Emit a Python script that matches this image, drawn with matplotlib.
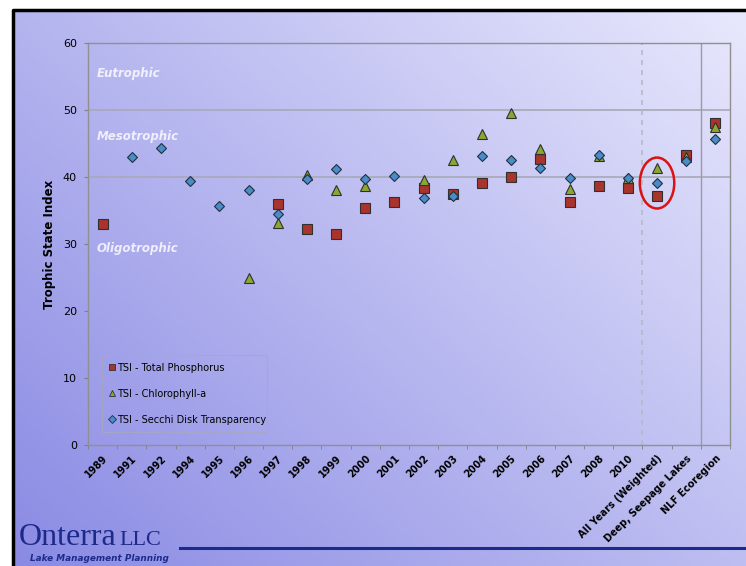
import numpy as np
import matplotlib.pyplot as plt
from matplotlib.patches import Ellipse
from matplotlib.lines import Line2D

# Categories along the x axis
cats = ['1989', '1991', '1992', '1994', '1995', '1996', '1997', '1998', '1999',
        '2000', '2001', '2002', '2003', '2004', '2005', '2006', '2007', '2008',
        '2010', 'All Years (Weighted)', 'Deep, Seepage Lakes', 'NLF Ecoregion']

nan = np.nan
# TSI values per category (nan = no data)
tsi_tp = [33.0, nan, nan, nan, nan, nan, 35.9, 32.2, 31.5, 35.3, 36.3, 38.3,
          37.4, 39.1, 40.0, 42.7, 36.3, 38.7, 38.3, 37.1, 43.3, 48.1]
tsi_chl = [nan, nan, nan, nan, nan, 24.9, 33.1, 40.3, 38.0, 38.6, nan, 39.6,
           42.5, 46.4, 49.6, 44.2, 38.2, 43.1, 39.9, 41.3, 43.0, 47.5]
tsi_sd = [nan, 43.0, 44.4, 39.4, 35.7, 38.1, 34.5, 39.7, 41.2, 39.7, 40.2, 36.8,
          37.2, 43.2, 42.6, 41.3, 39.8, 43.3, 39.8, 39.1, 42.4, 45.7]

W, H = 746, 566
fig = plt.figure(figsize=(W / 100, H / 100), dpi=100)
fig.patch.set_facecolor('white')

# gradient panel behind everything
bg = fig.add_axes([0, 0, 1, 1], zorder=0)
bg.axis('off')
gx, gy = np.meshgrid(np.linspace(0, 1, 200), np.linspace(0, 1, 200))
t = np.clip(0.55 * gx + 0.45 * (1 - gy), 0, 1)
c0 = np.array([138, 138, 228]) / 255
c1 = np.array([232, 232, 253]) / 255
img = c0[None, None, :] * (1 - t[..., None]) + c1[None, None, :] * t[..., None]
bg.imshow(img, extent=[13, W, H, 9], aspect='auto', interpolation='bilinear')
bg.plot([13, 13, W], [H, 9.5, 9.5], color='black', lw=2.5, solid_capstyle='butt')
bg.plot([180, W], [548, 548], color='#1c2a8a', lw=2.2)
bg.text(19, 545, 'Onterra', family='Liberation Serif', fontsize=23,
        color='#1c2a8a', va='baseline')
bg.text(119, 545, 'LLC', family='Liberation Serif', fontsize=16, color='#1c2a8a',
        va='baseline')
bg.text(30, 561, 'Lake Management Planning', fontsize=6.4, color='#1c2a8a',
        style='italic', weight='bold', va='baseline', family='Liberation Sans Narrow')
bg.set_xlim(0, W)
bg.set_ylim(H, 0)

ax = fig.add_axes([88 / W, (H - 445) / H, 642 / W, 402 / H], zorder=1)
ax.set_facecolor('none')
x = np.arange(len(cats))

ax.set_xlim(-0.5, len(cats) - 0.5)
ax.set_ylim(0, 60)
ax.set_yticks(np.arange(0, 61, 10))
ax.tick_params(axis='y', labelsize=8, length=3, color='#808080', pad=5)
ax.set_xticks(x)
ax.set_xticklabels(cats, rotation=45, ha='right', rotation_mode='anchor',
                   fontsize=7, weight='bold')
ax.tick_params(axis='x', length=0, pad=6)
ax.set_xticks(np.arange(-0.5, len(cats), 1), minor=True)
ax.tick_params(axis='x', which='minor', length=3, color='#808080')
for s in ax.spines.values():
    s.set_color('#909090')
    s.set_linewidth(1)

for yv in (40, 50):
    ax.axhline(yv, color='#a8a8b8', lw=1.2, zorder=1)
ax.axvline(18.5, color='#b8b8c8', lw=1.2, ls=(0, (3, 3)), zorder=1)
ax.axvline(20.5, color='#9a9aa8', lw=1, zorder=1)

ax.set_ylabel('Trophic State Index', fontsize=8.5, weight='bold', labelpad=5)

ax.plot(x, tsi_tp, ls='none', marker='s', ms=6.6, mfc='#a8342c', mec='#303030',
        mew=0.8, zorder=3)
ax.plot(x, tsi_chl, ls='none', marker='^', ms=6.8, mfc='#8aa830', mec='#303030',
        mew=0.8, zorder=4)
ax.plot(x, tsi_sd, ls='none', marker='D', ms=5, mfc='#4a8cc8', mec='#203040',
        mew=0.8, zorder=5)

for label, yv in (('Eutrophic', 55.5), ('Mesotrophic', 46.1), ('Oligotrophic', 29.3)):
    ax.text(-0.2, yv, label, color='white', alpha=0.8, fontsize=8.5,
            weight='bold', style='italic', va='center')

ax.add_patch(Ellipse((19, 39.1), 1.18, 7.6, fill=False, ec='#dd1111', lw=1.8,
                     zorder=6))

handles = [
    Line2D([], [], ls='none', marker='s', ms=5, mfc='#a8342c', mec='#303030', mew=0.6),
    Line2D([], [], ls='none', marker='^', ms=5, mfc='#8aa830', mec='#303030', mew=0.6),
    Line2D([], [], ls='none', marker='D', ms=4, mfc='#4a8cc8', mec='#203040', mew=0.6),
]
leg = ax.legend(handles, ['TSI - Total Phosphorus', 'TSI - Chlorophyll-a',
                          'TSI - Secchi Disk Transparency'],
                loc='lower left', bbox_to_anchor=(0.014, 0.02, 0.273, 0.2),
                mode='expand', fontsize=7, labelspacing=1.65, handlelength=0.6,
                handletextpad=0.2, borderpad=0.75, fancybox=False)
leg.get_frame().set_facecolor('none')
leg.get_frame().set_edgecolor('#a8a8c0')
leg.get_frame().set_linewidth(0.8)

fig.savefig('out.png', dpi=100)
